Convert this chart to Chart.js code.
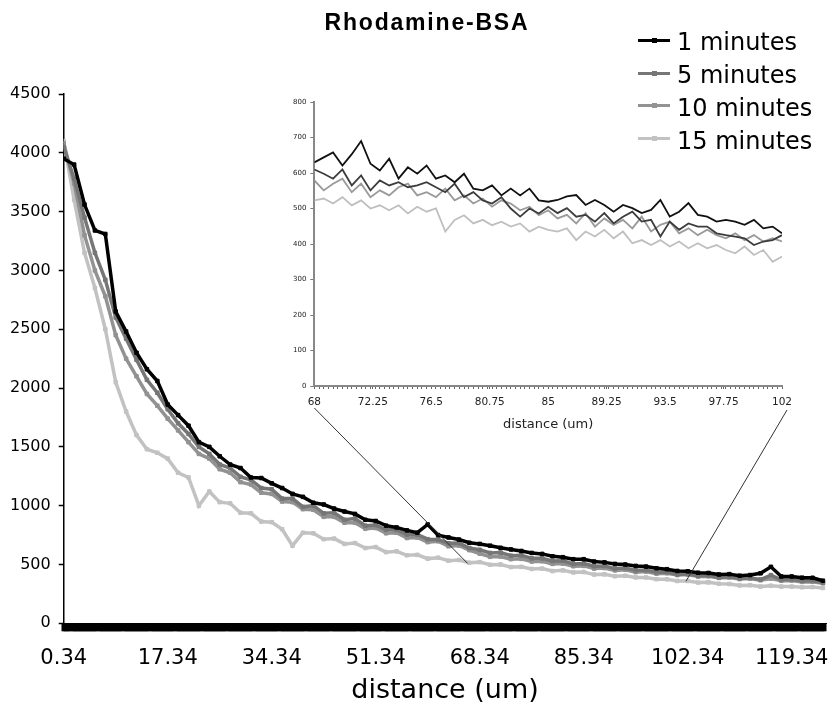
<!DOCTYPE html>
<html>
<head>
<meta charset="utf-8">
<title>Rhodamine-BSA</title>
<script src="https://cdn.jsdelivr.net/npm/chart.js@4.4.0/dist/chart.umd.min.js"></script>
<style>
  body { margin: 0; background: #fff; overflow: hidden; }
  #wrap { position: relative; width: 832px; height: 710px; overflow: hidden; }
  #mainChart { position: absolute; left: 0; top: 0; }
  #insetChart { position: absolute; left: 270px; top: 90px; }
  #title {
    position: absolute; left: 0; top: 9px; width: 854px; line-height: 26px;
    text-align: center; font: bold 23px 'Liberation Sans', Arial, sans-serif;
    letter-spacing: 1.8px; color: #000;
  }
  #legend { position: absolute; left: 638px; top: 26px; font: 24px 'DejaVu Sans', sans-serif; color: #000; }
  #legend .row { height: 32.8px; display: flex; align-items: center; white-space: nowrap; }
  #legend .swatch { position: relative; width: 32px; height: 3px; margin-right: 7px; top: -2px; }
  #legend .swatch i { position: absolute; left: 14px; top: -1px; width: 5px; height: 5px; }
</style>
</head>
<body>
<div id="wrap">
  <canvas id="mainChart" width="840" height="710"></canvas>
  <canvas id="insetChart" width="540" height="350"></canvas>
  <div id="title">Rhodamine-BSA</div>
  <div id="legend"></div>
</div>
<script>
// series names
const seriesNames = ['1 minutes', '5 minutes', '10 minutes', '15 minutes'];

// main chart: distance (um) and intensity
const distance = [
  0.34, 2.04, 3.74, 5.44, 7.14, 8.84, 10.54, 12.24, 13.94, 15.64,
  17.34, 19.04, 20.74, 22.44, 24.14, 25.84, 27.54, 29.24, 30.94, 32.64,
  34.34, 36.04, 37.74, 39.44, 41.14, 42.84, 44.54, 46.24, 47.94, 49.64,
  51.34, 53.04, 54.74, 56.44, 58.14, 59.84, 61.54, 63.24, 64.94, 66.64,
  68.34, 70.04, 71.74, 73.44, 75.14, 76.84, 78.54, 80.24, 81.94, 83.64,
  85.34, 87.04, 88.74, 90.44, 92.14, 93.84, 95.54, 97.24, 98.94, 100.64,
  102.34, 104.04, 105.74, 107.44, 109.14, 110.84, 112.54, 114.24, 115.94, 117.64,
  119.34, 121.04, 122.74, 124.44
];
const oneMin = [
  3950, 3900, 3560, 3340, 3310, 2650, 2480, 2300, 2160, 2060,
  1860, 1770, 1680, 1540, 1500, 1420, 1350, 1320, 1240, 1235,
  1190, 1150, 1100, 1075, 1025, 1010, 975, 950, 930, 880,
  870, 830, 815, 790, 770, 840, 750, 730, 712, 685,
  675, 660, 642, 628, 615, 598, 590, 570, 562, 545,
  545, 525, 518, 505, 500, 488, 482, 468, 460, 445,
  442, 430, 428, 415, 418, 405, 410, 425, 480, 398,
  398, 388, 387, 362
];
const fiveMin = [
  4050, 3780, 3450, 3150, 2920, 2600, 2420, 2240, 2070, 1960,
  1820, 1700, 1610, 1500, 1440, 1350, 1320, 1245, 1220, 1150,
  1140, 1060, 1060, 990, 1000, 935, 940, 880, 890, 830,
  835, 795, 795, 755, 755, 715, 712, 680, 682, 640,
  625, 598, 602, 575, 578, 552, 552, 530, 532, 505,
  508, 485, 488, 465, 470, 450, 452, 434, 436, 416,
  420, 404, 408, 390, 395, 381, 385, 372, 410, 370,
  374, 362, 364, 345
];
const tenMin = [
  4080, 3740, 3300, 3000, 2780, 2450, 2250, 2100, 1950, 1850,
  1740, 1640, 1540, 1440, 1400, 1310, 1280, 1200, 1180, 1110,
  1100, 1035, 1030, 970, 965, 905, 905, 855, 855, 805,
  810, 765, 770, 725, 730, 690, 698, 655, 662, 622,
  592, 565, 568, 545, 548, 525, 528, 505, 508, 485,
  488, 465, 470, 450, 455, 435, 440, 422, 426, 410,
  415, 397, 400, 386, 390, 376, 380, 366, 380, 362,
  364, 352, 354, 340
];
const fifteenMin = [
  4100, 3600, 3150, 2850, 2500, 2050, 1800, 1600, 1480, 1450,
  1400, 1280, 1240, 1000, 1120, 1030, 1020, 940, 935, 865,
  860, 800, 660, 770, 765, 715, 720, 675, 682, 640,
  648, 605, 612, 578, 582, 550, 558, 532, 538, 515,
  520, 498, 500, 478, 480, 462, 465, 444, 450, 433,
  436, 414, 416, 400, 404, 390, 390, 375, 374, 360,
  360, 346, 348, 336, 334, 322, 324, 312, 320, 312,
  312, 306, 308, 300
];
const mainTickLabels = [0.34, 17.34, 34.34, 51.34, 68.34, 85.34, 102.34, 119.34];

// inset: 68 - 102 um
const insetDistance = [
  68, 68.68, 69.36, 70.04, 70.72, 71.4, 72.08, 72.76, 73.44, 74.12,
  74.8, 75.48, 76.16, 76.84, 77.52, 78.2, 78.88, 79.56, 80.24, 80.92,
  81.6, 82.28, 82.96, 83.64, 84.32, 85, 85.68, 86.36, 87.04, 87.72,
  88.4, 89.08, 89.76, 90.44, 91.12, 91.8, 92.48, 93.16, 93.84, 94.52,
  95.2, 95.88, 96.56, 97.24, 97.92, 98.6, 99.28, 99.96, 100.64, 101.32,
  102
];
const insetOne = [
  630, 644, 658, 621, 653, 690, 626, 607, 640, 584,
  616, 598, 621, 584, 593, 574, 598, 556, 551, 565,
  537, 556, 537, 556, 523, 519, 524, 534, 538, 510,
  524, 510, 491, 510, 501, 487, 496, 524, 477, 491,
  515, 482, 477, 463, 468, 463, 454, 468, 444, 449,
  430
];
const insetFive = [
  610, 598, 584, 610, 565, 593, 551, 579, 565, 574,
  560, 565, 574, 560, 546, 570, 532, 546, 523, 514,
  532, 500, 477, 500, 486, 505, 487, 501, 477, 482,
  463, 487, 458, 477, 491, 463, 468, 421, 463, 440,
  458, 449, 449, 430, 425, 421, 416, 397, 407, 411,
  425
];
const insetTen = [
  579, 551, 570, 584, 546, 570, 532, 551, 537, 560,
  570, 537, 546, 532, 556, 523, 537, 514, 528, 505,
  523, 514, 495, 505, 481, 495, 472, 482, 458, 487,
  449, 472, 454, 468, 444, 477, 435, 454, 463, 430,
  444, 425, 440, 425, 416, 430, 411, 425, 407, 416,
  407
];
const insetFifteen = [
  523, 528, 514, 532, 509, 523, 500, 509, 495, 509,
  486, 505, 491, 500, 435, 468, 481, 458, 468, 453,
  463, 449, 458, 435, 449, 440, 435, 444, 411, 435,
  421, 440, 416, 435, 402, 411, 397, 411, 393, 407,
  388, 402, 388, 397, 383, 374, 393, 369, 383, 350,
  365
];
const insetTickLabels = [68, 72.25, 76.5, 80.75, 85, 89.25, 93.5, 97.75, 102];

// zoom connector: inset range -> point on the main curve
const zoomRange = [68, 102];
const zoomTargetX = [66.35, 102.05];
const zoomTargetY = [510, 357];

const mainColors = ['#000000', '#767676', '#929292', '#c2c2c2'];
const insetColors = ['#111111', '#3c3c3c', '#9a9a9a', '#bfbfbf'];

Chart.defaults.font.family = "'DejaVu Sans', Verdana, sans-serif";
Chart.defaults.color = '#000';

// many small tick marks along the x axis, only a few of them get a label
function denseTicks(start, end, step, labelled) {
  const out = [];
  for (let k = 0; start + k * step <= end + 1e-9; k++) {
    out.push(Math.round((start + k * step) * 100) / 100);
  }
  labelled.forEach(v => {
    if (!out.some(t => Math.abs(t - v) < 1e-6)) out.push(v);
  });
  out.sort((a, b) => a - b);
  return out.map(v => ({ value: v }));
}
function tickText(labelled) {
  return function(value) {
    const hit = labelled.find(v => Math.abs(v - value) < 1e-6);
    return hit === undefined ? '' : String(hit);
  };
}
const plainNumber = v => String(v);

// inset chart
const insetSeries = [insetOne, insetFive, insetTen, insetFifteen];
const insetCanvas = document.getElementById('insetChart');
const insetChart = new Chart(insetCanvas, {
  type: 'line',
  data: {
    datasets: seriesNames.map((name, k) => ({
      label: name,
      data: insetDistance.map((x, i) => ({ x: x, y: insetSeries[k][i] })),
      borderColor: insetColors[k],
      borderWidth: 1.8,
      pointRadius: 0,
      tension: 0
    }))
  },
  options: {
    responsive: false,
    animation: false,
    layout: { padding: { left: 19, right: 28, top: 12, bottom: 8 } },
    plugins: { legend: { display: false }, tooltip: { enabled: false } },
    scales: {
      x: {
        type: 'linear', min: 68, max: 102,
        afterBuildTicks: axis => { axis.ticks = denseTicks(68, 102, 0.34, insetTickLabels); },
        ticks: { autoSkip: false, maxRotation: 0, minRotation: 0, padding: 7.4,
                 callback: tickText(insetTickLabels), font: { size: 10.5 }, color: '#222' },
        grid: { drawOnChartArea: false, tickLength: 3, color: '#666', tickWidth: 1 },
        border: { color: '#888', width: 2 },
        title: { display: true, text: 'distance (um)', font: { size: 13 }, color: '#222',
                 padding: { top: 0, bottom: 0 } }
      },
      y: {
        min: 0, max: 800,
        ticks: { stepSize: 100, font: { size: 7 }, color: '#222', padding: 4, callback: plainNumber },
        grid: { drawOnChartArea: false, tickLength: 4, color: '#777' },
        border: { color: '#888', width: 2 }
      }
    }
  }
});

// lines joining the inset to the zoomed stretch of the main curve
const zoomLinks = {
  id: 'zoomLinks',
  afterDatasetsDraw(chart) {
    const { ctx, scales: { x, y } } = chart;
    const ix = insetChart.scales.x;
    const bottom = insetChart.chartArea.bottom;
    const offX = insetCanvas.offsetLeft, offY = insetCanvas.offsetTop;
    ctx.save();
    ctx.strokeStyle = '#333';
    ctx.lineWidth = 1;
    zoomRange.forEach((v, k) => {
      ctx.beginPath();
      ctx.moveTo(offX + ix.getPixelForValue(v) + k * 5, offY + bottom + 22 + k * 2);
      ctx.lineTo(x.getPixelForValue(zoomTargetX[k]), y.getPixelForValue(zoomTargetY[k]));
      ctx.stroke();
    });
    ctx.restore();
  }
};

// main chart
const mainSeries = [oneMin, fiveMin, tenMin, fifteenMin];
const mainChart = new Chart(document.getElementById('mainChart'), {
  type: 'line',
  data: {
    datasets: seriesNames.map((name, k) => ({
      label: name,
      data: distance.map((x, i) => ({ x: x, y: mainSeries[k][i] })),
      borderColor: mainColors[k],
      backgroundColor: mainColors[k],
      borderWidth: 3.5,
      pointStyle: 'rect',
      pointRadius: 2.5,
      pointBorderWidth: 1,
      tension: 0
    }))
  },
  options: {
    responsive: false,
    animation: false,
    layout: { padding: { left: 2, right: 0, top: 94, bottom: 0 } },
    plugins: { legend: { display: false }, tooltip: { enabled: false } },
    scales: {
      x: {
        type: 'linear', min: 0.34, max: 125,
        afterBuildTicks: axis => { axis.ticks = denseTicks(0.34, 125, 0.34, mainTickLabels); },
        ticks: { autoSkip: false, maxRotation: 0, minRotation: 0, padding: 15,
                 callback: tickText(mainTickLabels), font: { size: 21 }, color: '#000' },
        grid: { drawOnChartArea: false, tickLength: 8, color: '#000', tickWidth: 4 },
        border: { color: '#000', width: 1 },
        title: { display: true, text: 'distance (um)', font: { size: 27, lineHeight: 1 }, color: '#000',
                 padding: { top: -9, bottom: 5.5 } }
      },
      y: {
        min: 0, max: 4500,
        ticks: { stepSize: 500, font: { size: 16 }, color: '#000', padding: 8, callback: plainNumber },
        grid: { drawOnChartArea: false, tickLength: 5, color: '#000', tickWidth: 1.5 },
        border: { color: '#000', width: 1.5 }
      }
    }
  },
  plugins: [zoomLinks]
});

// legend built from the main chart's datasets
const legendBox = document.getElementById('legend');
mainChart.data.datasets.forEach(ds => {
  const row = document.createElement('div');
  row.className = 'row';
  row.innerHTML = '<span class="swatch" style="background:' + ds.borderColor + '"><i style="background:' +
    ds.borderColor + '"></i></span><span>' + ds.label + '</span>';
  legendBox.appendChild(row);
});
</script>
</body>
</html>
